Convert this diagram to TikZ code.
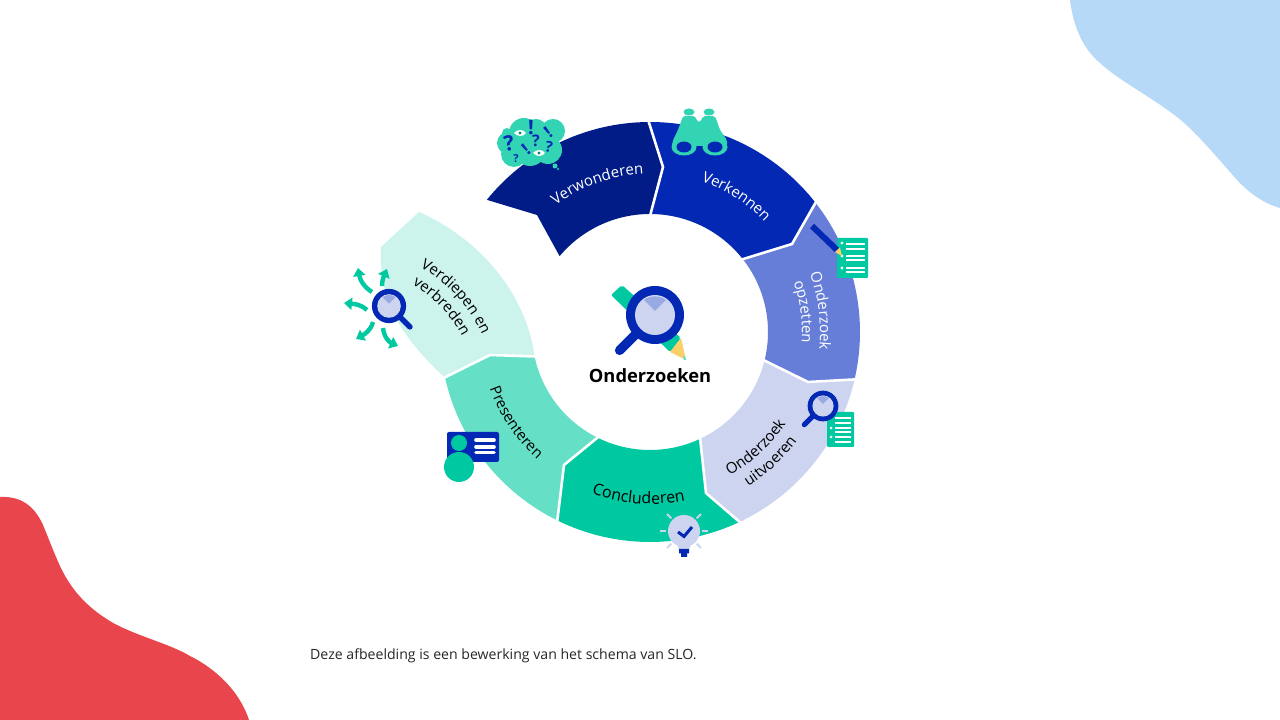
\documentclass[tikz,border=0pt]{standalone}
\usepackage{fontspec}
\setmainfont{Open Sans}
\usetikzlibrary{decorations.text,arrows.meta}
\definecolor{cNavy}{HTML}{021C87}
\definecolor{cBlue}{HTML}{0328B4}
\definecolor{cMid}{HTML}{667ED7}
\definecolor{cPale}{HTML}{CCD4F0}
\definecolor{cWedge}{HTML}{99A9E1}
\definecolor{cGreen}{HTML}{00C9A1}
\definecolor{cMint}{HTML}{66DFC7}
\definecolor{cIce}{HTML}{CCF4EC}
\definecolor{cTeal}{HTML}{33D4B4}
\definecolor{cRed}{HTML}{E9454D}
\definecolor{cSky}{HTML}{B7D9F8}
\definecolor{cYellow}{HTML}{FBCF6A}
\newcommand\wfont{\fontsize{15}{15}\selectfont\color{white}}
\newcommand\kfont{\fontsize{15}{15}\selectfont\color{black}}
\newcommand\kbig{\fontsize{16}{16}\selectfont\color{black}}
\newcommand\curved[3]{\path[decorate,decoration={text along path,text align=center,text={|#1|#2}}] #3;}
\newcommand\lens[4]{%
 \begin{scope}[shift={(#1,720-#2)},scale=#3]
  \draw[line width=#3*9.5pt,line cap=round,cBlue] (#4:28) -- (#4:50);
  \fill[cBlue] (0,0) circle[radius=29];
  \fill[cPale] (0,0) circle[radius=20];
  \fill[cWedge] (0,4) -- (126:18.6) arc[start angle=126,end angle=54,radius=18.6] -- cycle;
 \end{scope}}
\tikzset{
 sep/.style={draw=white,line width=2.6pt,line join=miter},
 burst/.style={cGreen,line width=4.4pt,-{Triangle[length=8pt,width=12pt]}},
 ray/.style={cPale,line width=1.8pt},
 listline/.style={white,line width=1.3pt},
 px/.style={shift={(0,720)},y=-1pt},
 glyphmark/.style={text=cBlue,font=\bfseries\fontsize{#1}{#1}\selectfont,inner sep=0pt}
}
\begin{document}
\begin{tikzpicture}[x=1pt,y=1pt]
\useasboundingbox (0,0) rectangle (1280,720);
\fill[white] (0,0) rectangle (1280,720);
% ring
\begin{scope}[shift={(650,388)}]
 \coordinate (A1) at (90.5:210); \coordinate (A2) at (13,165);   \coordinate (A3) at (90:118);
 \coordinate (B1) at (38.2:210); \coordinate (B2) at (142,88);   \coordinate (B3) at (38.5:118);
 \coordinate (C1) at (-12.9:210);\coordinate (C2) at (158,-50);  \coordinate (C3) at (-13.8:118);
 \coordinate (D1) at (-64.5:210);\coordinate (D2) at (56,-161);  \coordinate (D3) at (-64.5:118);
 \coordinate (E1) at (-116:210); \coordinate (E2) at (-86,-133); \coordinate (E3) at (-116:118);
 \coordinate (F1) at (-167.4:210);\coordinate (F2) at (-160,-23);\coordinate (F3) at (-167.8:118);
 \fill[cIce] (F1) .. controls (-245,-8) and (-272,27) .. (-269,85) -- (-231,120) .. controls (-172,94) and (-124,40) .. (F3) -- (F2) -- cycle;
 \fill[cMint] (E1) arc[start angle=-116,end angle=-167.4,radius=210] -- (F2) -- (F3) arc[start angle=-167.8,end angle=-116,radius=118] -- (E2) -- cycle;
 \fill[cGreen] (D1) arc[start angle=-64.5,end angle=-116,radius=210] -- (E2) -- (E3) arc[start angle=-116,end angle=-64.5,radius=118] -- (D2) -- cycle;
 \fill[cPale] (C1) arc[start angle=-12.9,end angle=-64.5,radius=210] -- (D2) -- (D3) arc[start angle=-64.5,end angle=-13.8,radius=118] -- (C2) -- cycle;
 \fill[cMid] (B1) arc[start angle=38.2,end angle=-12.9,radius=210] -- (C2) -- (C3) arc[start angle=-13.8,end angle=38.5,radius=118] -- (B2) -- cycle;
 \fill[cBlue] (A1) arc[start angle=90.5,end angle=38.2,radius=210] -- (B2) -- (B3) arc[start angle=38.5,end angle=90,radius=118] -- (A2) -- cycle;
 \fill[cNavy] (141:210) arc[start angle=141,end angle=90.5,radius=210] -- (A2) -- (A3) arc[start angle=90,end angle=140,radius=118] -- (-113,117) -- cycle;
 \draw[sep] (90.5:212) -- (A2) -- (90:116);
 \draw[sep] (38.2:212) -- (B2) -- (38.5:116);
 \draw[sep] (-12.9:212) -- (C2) -- (-13.8:116);
 \draw[sep] (-64.5:212) -- (D2) -- (-64.5:116);
 \draw[sep] (-116:212) -- (E2) -- (-116:116);
 \draw[sep] (-167.4:212) -- (F2) -- (-167.8:116);
 % labels
 \curved{\wfont}{Verwonderen}{(134:158) arc[start angle=134,end angle=85,radius=158]}
 \curved{\wfont}{Verkennen}{(85:159) arc[start angle=85,end angle=30,radius=159]}
 \curved{\wfont}{Onderzoek}{(32:170) arc[start angle=32,end angle=-18,radius=170]}
 \curved{\wfont}{opzetten}{(32:152) arc[start angle=32,end angle=-17,radius=152]}
 \curved{\kfont}{Onderzoek}{(285:164) arc[start angle=285,end angle=340,radius=164]}
 \curved{\kfont}{uitvoeren}{(290:183) arc[start angle=290,end angle=336,radius=183]}
 \curved{\kbig}{Concluderen}{(235:172) arc[start angle=235,end angle=297,radius=172]}
 \curved{\kfont}{Presenteren}{(190:170) arc[start angle=190,end angle=238,radius=170]}
\end{scope}
\begin{scope}[px]
 % corner blobs
 \fill[cSky] (1070,0) .. controls (1073,25) and (1082,48) .. (1100,63) .. controls (1118,80) and (1150,96) .. (1177,117) .. controls (1195,131) and (1215,155) .. (1237,180) .. controls (1250,194) and (1265,204) .. (1280,208) -- (1280,0) -- cycle;
 \fill[cRed] (0,497) .. controls (20,496) and (34,505) .. (43,525) .. controls (50,542) and (54,553) .. (60,566) .. controls (72,592) and (90,610) .. (115,624) .. controls (140,637) and (170,644) .. (190,656) .. controls (220,671) and (241,695) .. (249,720) -- (0,720) -- cycle;
 \curved{\kfont}{Verdiepen en}{(400,259) .. controls (445,273) and (477,313) .. (490,355)}
 \curved{\kfont}{verbreden}{(397,277) .. controls (432,292) and (459,322) .. (469,352)}
 % centre pencil
 \fill[cGreen,rounded corners=2pt] (611,295) -- (622,285) -- (681,338) -- (670,352) -- cycle;
 \fill[cYellow] (681,338) -- (670,352) -- (686,360) -- cycle;
 \fill[cMint] (683,357) -- (684,360) -- (686,360) -- (685,356) -- cycle;
 % cloud
 \fill[cTeal] (524,133) circle[radius=15] (536,130) circle[radius=11] (553,131) circle[radius=12] (507,133) circle[radius=5]
   (508,143) circle[radius=11] (514,154) circle[radius=13] (530,150) circle[radius=16] (548,150) circle[radius=14]
   (555,166) circle[radius=2.5] (558,169) circle[radius=1.2];
 \node[glyphmark=21,rotate=10] (q1) at (509,143) {?};
 \node[glyphmark=20] (e1) at (531,128) {!};
 \node[glyphmark=17,rotate=38] (e2) at (548,132) {!};
 \node[glyphmark=16] (q2) at (536,141) {?};
 \node[glyphmark=15,rotate=-10] (q3) at (549,147) {?};
 \node[glyphmark=17,rotate=40] (e3) at (526,149) {!};
 \node[glyphmark=11] (q4) at (516,159) {?};
 \fill[white] (514,133) .. controls (518,129) and (523,129) .. (526,133) .. controls (523,137) and (518,137) .. (514,133) -- cycle;
 \fill[cGreen!70!black] (520,133) circle[radius=1.6];
 \fill[white] (533,153) .. controls (537,149) and (542,149) .. (545,153) .. controls (542,157) and (537,157) .. (533,153) -- cycle;
 \fill[cGreen!70!black] (539,153) circle[radius=1.6];
 % binoculars
 \fill[cTeal] (689,112) ellipse[x radius=5.5,y radius=3.5] (709,112) ellipse[x radius=5.5,y radius=3.5];
 \fill[cTeal,rounded corners=2pt] (683,116) -- (695,116) -- (697,121) -- (699,122.5) -- (701,121) -- (703,116) -- (715,116) -- (720,130) -- (727,140) -- (727,146) -- (672,146) -- (673,140) -- (678,130) -- cycle;
 \fill[cTeal] (684,147) ellipse[x radius=12.5,y radius=8.5] (715,147) ellipse[x radius=12.5,y radius=8.5];
 \fill[cBlue] (684,147) ellipse[x radius=7.5,y radius=5.5] (715,147) ellipse[x radius=7.5,y radius=5.5];
 % list and pencil, Onderzoek opzetten
 \fill[cGreen,rounded corners=1pt] (837,238) rectangle (868,278);
 \foreach \yy in {244,249,256,260,268,272} {\draw[listline] (846,\yy) -- (865,\yy);}
 \fill[white] (842,243) circle[radius=1.6] (842,256) circle[radius=1.6] (842,268) circle[radius=1.6];
 \draw[cBlue,line width=6pt] (812,226) -- (837,250);
 \fill[cYellow] (835,252) -- (840,247.5) -- (842,256) -- cycle;
 % list, Onderzoek uitvoeren
 \fill[cGreen,rounded corners=1pt] (827,412) rectangle (854,447);
 \foreach \yy in {418,423,428,432,437,442} {\draw[listline] (835,\yy) -- (851,\yy);}
 \fill[white] (831,428) circle[radius=1.5] (831,437) circle[radius=1.5];
 % bulb
 \foreach \aa in {90,45,135,0,180,225,315} {\draw[ray] (684,531) ++(\aa:18) -- ++(\aa:6);}
 \fill[cPale] (684,531) circle[radius=16];
 \fill[cPale] (677,544) -- (691,544) -- (689,550) -- (679,550) -- cycle;
 \draw[cBlue,line width=3pt] (678,532) -- (684,536.5) -- (692,527);
 \fill[cBlue] (679,549) rectangle (689,553.5) (681,553.5) rectangle (687,557);
 % presenter card
 \fill[cBlue,rounded corners=2pt] (447,432) rectangle (499,462);
 \draw[white,line width=3.6pt,line cap=round] (476,440) -- (494,440) (476,447) -- (494,447) (476,452.5) -- (494,452.5);
 \fill[cGreen] (459,443) circle[radius=8] (459,467) circle[radius=15];
 % burst arrows
 \draw[burst] (372,292) .. controls (364,287) and (360,280) .. (358,268);
 \draw[burst] (382,286) .. controls (382,280) and (384,276) .. (387,269);
 \draw[burst] (367,310) .. controls (360,304) and (354,304) .. (344,303);
 \draw[burst] (373,322) .. controls (371,330) and (365,334) .. (356,339);
 \draw[burst] (383,328) .. controls (384,337) and (389,342) .. (398,346);
\end{scope}
\lens{655}{315}{1}{225}
\lens{389}{306}{0.59}{-45}
\lens{823}{406}{0.53}{225}
\node[font=\bfseries\fontsize{18.3}{20}\selectfont,text=black,inner sep=0pt] (title) at (650,344) {Onderzoeken};
\node[anchor=base west,font=\fontsize{14.1}{15}\selectfont,text=black!85,inner sep=0pt] (note) at (310,60) {Deze afbeelding is een bewerking van het schema van SLO.};
\end{tikzpicture}
\end{document}
